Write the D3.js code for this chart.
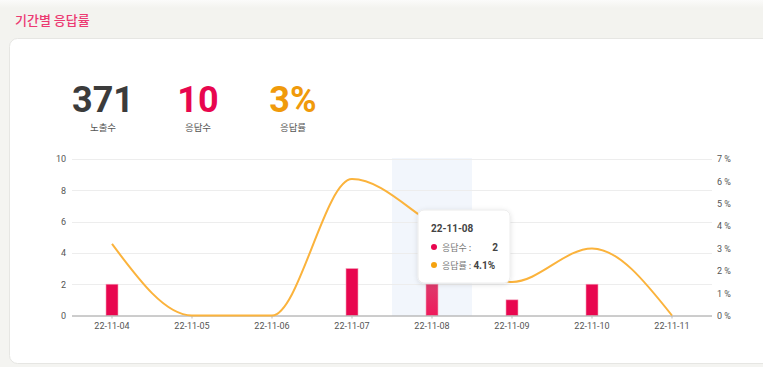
<!DOCTYPE html>
<html>
<head>
<meta charset="utf-8">
<script src="https://cdn.jsdelivr.net/npm/d3@7"></script>
<style>
  html, body { margin: 0; padding: 0; background: #f4f4f1; }
  svg { display: block; font-family: Roboto, "Noto Sans CJK KR", sans-serif; }
</style>
</head>
<body>
<svg id="chart" width="763" height="367"></svg>
<script>
// Daily response data
const dates = ["22-11-04", "22-11-05", "22-11-06", "22-11-07", "22-11-08", "22-11-09", "22-11-10", "22-11-11"];
const responses = [2, 0, 0, 3, 2, 1, 2, 0];
const rates = [3.2, 0, 0, 6.1, 4.1, 1.5, 3.0, 0];
const countTicks = [0, 2, 4, 6, 8, 10];
const rateTicks = [0, 1, 2, 3, 4, 5, 6, 7];
const summary = [
  { value: "371", label: "노출수", color: "#3b3b3b" },
  { value: "10", label: "응답수", color: "#e8064f" },
  { value: "3%", label: "응답률", color: "#f09a0b" }
];
const activeIndex = 4;

const svg = d3.select("#chart");
const BAR = "#e8064f", LINE = "#fbb33c";

// header strip and card
const defs = svg.append("defs");
const hg = defs.append("linearGradient").attr("id", "hdr").attr("x1", 0).attr("y1", 0).attr("x2", 0).attr("y2", 1);
hg.append("stop").attr("offset", 0).attr("stop-color", "#fbfbfa");
hg.append("stop").attr("offset", 0.2).attr("stop-color", "#f3f3ef");
hg.append("stop").attr("offset", 1).attr("stop-color", "#f3f3ef");
svg.append("rect").attr("width", 763).attr("height", 367).attr("fill", "#f4f4f1");
svg.append("rect").attr("width", 763).attr("height", 40).attr("fill", "url(#hdr)");
svg.append("text").attr("x", 15).attr("y", 25).attr("fill", "#ec3a72")
  .attr("font-size", 13).attr("font-family", "'Noto Sans CJK KR', sans-serif").attr("font-weight", 500)
  .text("기간별 응답률");

const sh = defs.append("filter").attr("id", "sh").attr("x", "-20%").attr("y", "-20%").attr("width", "140%").attr("height", "150%");
sh.append("feDropShadow").attr("dx", 0).attr("dy", 1).attr("stdDeviation", 2.5).attr("flood-color", "#000").attr("flood-opacity", 0.12);

svg.append("rect").attr("x", 9.5).attr("y", 38.5).attr("width", 780).attr("height", 325).attr("rx", 8)
  .attr("fill", "#fff").attr("stroke", "#e6e6e3");

// summary numbers
const sg = svg.append("g").selectAll("g").data(summary).join("g")
  .attr("transform", (d, i) => `translate(${103 + i * 95},0)`);
sg.append("text").attr("y", 112).attr("text-anchor", "middle").attr("font-size", 36)
  .attr("font-weight", 700).attr("fill", d => d.color).text(d => d.value);
sg.append("text").attr("y", 131).attr("text-anchor", "middle").attr("font-size", 9.5)
  .attr("font-family", "'Noto Sans CJK KR', sans-serif").attr("fill", "#555").text(d => d.label);

// scales
const x = d3.scaleBand().domain(dates).range([72, 712]);
const yL = d3.scaleLinear().domain([0, 10]).range([315.5, 159]);
const yR = d3.scaleLinear().domain([0, 7]).range([315.5, 159]);

// hover band
svg.append("rect").attr("x", x(dates[activeIndex])).attr("y", yL(10) - 1)
  .attr("width", x.bandwidth()).attr("height", yL(0) - yL(10) + 1).attr("fill", "#f2f6fc");

// gridlines
svg.append("g").selectAll("line").data(countTicks.slice(1)).join("line")
  .attr("x1", 72).attr("x2", 712).attr("y1", d => Math.round(yL(d)) + 0.5).attr("y2", d => Math.round(yL(d)) + 0.5)
  .attr("stroke", "#ededed");

// left axis
const axL = svg.append("g").attr("transform", "translate(72,0)")
  .call(d3.axisLeft(yL).tickValues(countTicks).tickSize(0).tickPadding(6));
axL.select(".domain").remove();
axL.selectAll("text").attr("font-size", 9).attr("fill", "#555").attr("font-family", "Roboto, sans-serif");

// right axis
const axR = svg.append("g").attr("transform", "translate(712,0)")
  .call(d3.axisRight(yR).tickValues(rateTicks).tickSize(0).tickPadding(5).tickFormat(d => d + " %"));
axR.select(".domain").remove();
axR.selectAll("text").attr("font-size", 9).attr("fill", "#555").attr("font-family", "Roboto, sans-serif");

// bars
const bg = defs.append("linearGradient").attr("id", "barHover").attr("x1", 0).attr("y1", 0).attr("x2", 0).attr("y2", 1);
bg.append("stop").attr("offset", 0).attr("stop-color", "#dd3a6c");
bg.append("stop").attr("offset", 1).attr("stop-color", "#ef1a5c");
const bw = 12;
svg.append("g").selectAll("rect").data(responses.map((v, i) => ({ v, d: dates[i], i })).filter(o => o.v > 0)).join("rect")
  .attr("x", o => x(o.d) + x.bandwidth() / 2 - bw / 2).attr("y", o => yL(o.v))
  .attr("width", bw).attr("height", o => yL(0) - yL(o.v))
  .attr("fill", o => o.i === activeIndex ? "url(#barHover)" : BAR)
  .attr("stroke", "#f3a0b8").attr("stroke-width", 0.6);

// bottom axis
const axB = svg.append("g").attr("transform", `translate(0,${yL(0)})`)
  .call(d3.axisBottom(x).tickSize(3).tickPadding(4));
axB.select(".domain").attr("stroke", "#9a9a9a").attr("d", "M72,0.5H712");
axB.selectAll(".tick line").attr("stroke", "#bbb");
axB.selectAll("text").attr("font-size", 9).attr("fill", "#555").attr("font-family", "Roboto, sans-serif");

// rate line
const line = d3.line()
  .x((d, i) => x(dates[i]) + x.bandwidth() / 2)
  .y(d => yR(d))
  .curve(d3.curveMonotoneX);
svg.append("path").datum(rates).attr("d", line).attr("fill", "none")
  .attr("stroke", LINE).attr("stroke-width", 2);

// tooltip
const tt = svg.append("g").attr("transform", "translate(418,210)");
tt.append("rect").attr("width", 92).attr("height", 73).attr("rx", 6)
  .attr("fill", "#fff").attr("stroke", "#ececec").attr("filter", "url(#sh)");
tt.append("text").attr("x", 13).attr("y", 22).attr("font-size", 10).attr("font-weight", 700)
  .attr("fill", "#444").text(dates[activeIndex]);
tt.append("circle").attr("cx", 16).attr("cy", 37).attr("r", 3).attr("fill", BAR);
tt.append("text").attr("x", 24).attr("y", 40.5).attr("font-size", 9)
  .attr("font-family", "'Noto Sans CJK KR', sans-serif").attr("fill", "#777").text("응답수 :");
tt.append("text").attr("x", 80).attr("y", 40.5).attr("text-anchor", "end").attr("font-size", 10)
  .attr("font-weight", 700).attr("fill", "#444").text(responses[activeIndex]);
tt.append("circle").attr("cx", 16).attr("cy", 55).attr("r", 3).attr("fill", "#f5a20f");
const t2 = tt.append("text").attr("x", 24).attr("y", 58.5).attr("font-size", 9)
  .attr("font-family", "'Noto Sans CJK KR', sans-serif").attr("fill", "#777");
t2.append("tspan").text("응답률 : ");
t2.append("tspan").attr("font-weight", 700).attr("fill", "#444").attr("font-size", 10)
  .attr("font-family", "Roboto, sans-serif").text(rates[activeIndex] + "%");
</script>
</body>
</html>
